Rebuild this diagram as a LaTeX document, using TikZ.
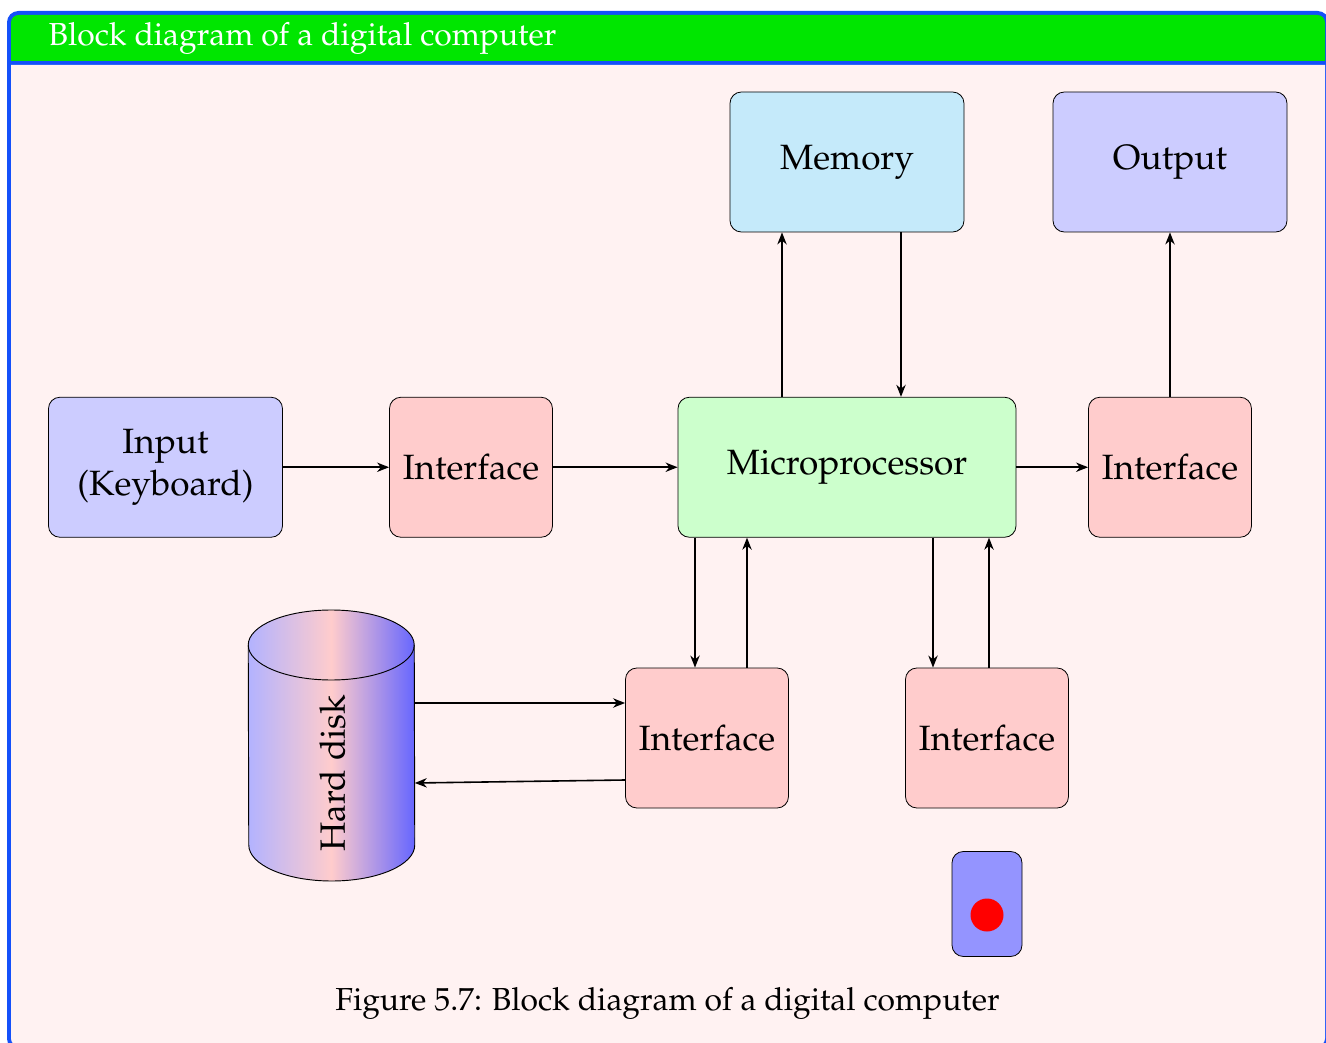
\documentclass[tikz,border=0pt]{standalone}
\usepackage[T1]{fontenc}
\usepackage{mathpazo}
\usetikzlibrary{arrows.meta}
\definecolor{inputblue}{RGB}{204,204,255}
\definecolor{ifacered}{RGB}{255,204,204}
\definecolor{cpugreen}{RGB}{204,255,204}
\definecolor{memcyan}{RGB}{197,234,250}
\definecolor{panelpink}{RGB}{255,242,242}
\definecolor{framegreen}{RGB}{0,230,0}
\definecolor{frameblue}{RGB}{20,80,250}
\newdimen\unit
\unit=0.0264cm
\tikzset{
  bigfont/.style={font=\fontsize{23.9}{31.5}\selectfont},
  boxfont/.style={font=\fontsize{26.4}{31.5}\selectfont},
  block/.style={draw,rounded corners=0.3cm,line width=0.6pt,align=center,boxfont,inner sep=0pt},
  bigblock/.style={block,minimum width=234\unit,minimum height=140\unit},
  iface/.style={block,fill=ifacered,minimum width=163\unit,minimum height=140\unit},
  link/.style={-{Stealth[length=9pt,width=7pt,inset=2.8pt]},line width=1.2pt},
  diskfill/.style={left color=blue!30,right color=blue!60,middle color=ifacered},
}
\begin{document}
\begin{tikzpicture}[x=\unit,y=-\unit]
\useasboundingbox (0,0) rectangle (1326,1043);
%%% frame
\fill[frameblue,rounded corners=0.3cm] (7,11) rectangle (1329,1050);
\fill[panelpink] (11,65) -- (1325,65) [rounded corners=0.2cm] -- (1325,1046) -- (11,1046) [sharp corners] -- cycle;
\fill[framegreen] (11,61) [rounded corners=0.2cm] -- (11,15) -- (1325,15) [sharp corners] -- (1325,61) -- cycle;
\node[anchor=base west,white,bigfont] (title) at (44,46) {Block diagram of a digital computer};

%%% blocks
\node[bigblock,fill=memcyan] (memory) at (847,162) {\raisebox{3pt}{Memory}};
\node[bigblock,fill=inputblue] (output) at (1170,162) {\raisebox{3pt}{Output}};
\node[bigblock,fill=inputblue] (input) at (165.5,467.25) {Input\\(Keyboard)};
\node[iface] (ifinput) at (471,467.25) {\raisebox{-0.75pt}{Interface}};
\node[block,fill=cpugreen,minimum width=338\unit,minimum height=140\unit] (cpu) at (847,467.25) {\raisebox{2.25pt}{Microprocessor}};
\node[iface] (ifoutput) at (1170,467.25) {\raisebox{-0.75pt}{Interface}};
\node[iface] (ifdisk) at (707,738) {\raisebox{-0.75pt}{Interface}};
\node[iface] (ifmouse) at (987,738) {\raisebox{-0.75pt}{Interface}};
\node[minimum width=166\unit,minimum height=271\unit,inner sep=0pt] (disk) at (331.5,745.5) {};
\shade[diskfill] (disk.west |- 0,645) arc (180:360:83 and 35) -- (disk.east |- 0,845) arc (0:180:83 and 36) -- cycle;
\draw[line width=0.7pt] (disk.west |- 0,645) arc (180:360:83 and 35) -- (disk.east |- 0,845) arc (0:180:83 and 36) -- cycle;
\draw[line width=0.7pt] (disk.west |- 0,645) arc (180:0:83 and 35);
\node[rotate=90,boxfont] (disklabel) at (332.5,773) {Hard disk};
\node[draw,rounded corners=0.3cm,line width=0.6pt,fill=blue!42,minimum width=70\unit,minimum height=105\unit] (mouse) at (987,904) {};
\node[circle,fill=red,minimum size=33\unit,inner sep=0pt] (button) at (987,915) {};
\node[bigfont] (caption) at (667.5,1003.5) {Figure 5.7: Block diagram of a digital computer};

%%% links
\draw[link] (input.east) -- (ifinput.west);
\draw[link] (ifinput.east) -- (cpu.west);
\draw[link] (cpu.east) -- (ifoutput.west);
\draw[link] (ifoutput.north) -- (output.south);
\draw[link] (cpu.north -| 782,0) -- (memory.south -| 782,0);
\draw[link] (memory.south -| 901,0) -- (cpu.north -| 901,0);
\draw[link] (cpu.south -| 695,0) -- (ifdisk.north -| 695,0);
\draw[link] (ifdisk.north -| 747,0) -- (cpu.south -| 747,0);
\draw[link] (cpu.south -| 933,0) -- (ifmouse.north -| 933,0);
\draw[link] (ifmouse.north -| 989,0) -- (cpu.south -| 989,0);
\draw[link] (disk.east |- 0,703) -- (ifdisk.west |- 0,703);
\draw[link] (ifdisk.west |- 0,780) -- (disk.east |- 0,783);
\end{tikzpicture}
\end{document}
